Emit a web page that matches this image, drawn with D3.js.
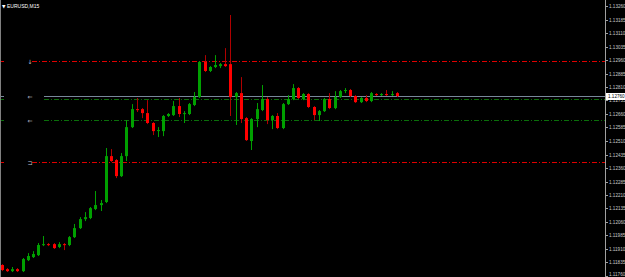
<!DOCTYPE html>
<html>
<head>
<meta charset="utf-8">
<script src="https://cdn.jsdelivr.net/npm/d3@7"></script>
<style>
  html, body { margin: 0; padding: 0; background: #000; overflow: hidden; }
  svg { display: block; }
</style>
</head>
<body>
<div id="chart"></div>
<script>
// EURUSD M15 candles (oldest first)
const opens = [1.11821,1.11798,1.11787,1.11798,1.11787,1.11848,1.11865,1.11876,1.11932,1.11937,
  1.11937,1.11921,1.11937,1.11932,1.11976,1.12026,1.12076,1.12082,1.12132,1.12154,
  1.12171,1.12426,1.12404,1.12315,1.12426,1.12587,1.12687,1.12687,1.12665,1.12610,
  1.12565,1.12565,1.12649,1.12654,1.12704,1.12662,1.12660,1.12710,1.12754,1.12949,
  1.12899,1.12921,1.12926,1.12937,1.12937,1.12754,1.12776,1.12637,1.12510,1.12632,
  1.12682,1.12743,1.12626,1.12649,1.12582,1.12715,1.12743,1.12804,1.12743,1.12771,
  1.12699,1.12654,1.12676,1.12743,1.12693,1.12754,1.12790,1.12793,1.12760,1.12726,
  1.12749,1.12732,1.12771,1.12765,1.12771,1.12765,1.12776];
const highs = [1.11826,1.11804,1.11810,1.11804,1.11860,1.11887,1.11898,1.11943,1.11982,1.11943,
  1.11943,1.11948,1.11943,1.11982,1.12049,1.12087,1.12115,1.12143,1.12232,1.12182,
  1.12471,1.12465,1.12410,1.12443,1.12626,1.12715,1.12749,1.12693,1.12737,1.12615,
  1.12587,1.12654,1.12665,1.12732,1.12749,1.12676,1.12721,1.12782,1.12954,1.12987,
  1.12926,1.12987,1.12943,1.13026,1.13210,1.12782,1.12865,1.12643,1.12637,1.12721,
  1.12821,1.12754,1.12654,1.12665,1.12721,1.12765,1.12826,1.12810,1.12776,1.12776,
  1.12704,1.12682,1.12749,1.12776,1.12787,1.12793,1.12804,1.12799,1.12765,1.12754,
  1.12765,1.12782,1.12776,1.12776,1.12793,1.12787,1.12782];
const lows = [1.11787,1.11782,1.11782,1.11782,1.11782,1.11843,1.11860,1.11871,1.11926,1.11926,
  1.11910,1.11915,1.11904,1.11926,1.11971,1.12021,1.12065,1.12076,1.12126,1.12121,
  1.12165,1.12393,1.12304,1.12310,1.12399,1.12582,1.12671,1.12637,1.12604,1.12543,
  1.12532,1.12537,1.12643,1.12649,1.12643,1.12610,1.12654,1.12704,1.12749,1.12893,
  1.12893,1.12915,1.12915,1.12921,1.12649,1.12599,1.12610,1.12510,1.12460,1.12587,
  1.12676,1.12604,1.12576,1.12576,1.12576,1.12710,1.12737,1.12743,1.12737,1.12693,
  1.12626,1.12621,1.12671,1.12687,1.12687,1.12749,1.12776,1.12754,1.12721,1.12721,
  1.12726,1.12726,1.12760,1.12760,1.12760,1.12760,1.12754];
const closes = [1.11793,1.11787,1.11798,1.11787,1.11854,1.11871,1.11882,1.11932,1.11937,1.11932,
  1.11915,1.11937,1.11932,1.11976,1.12026,1.12076,1.12087,1.12137,1.12154,1.12165,
  1.12426,1.12399,1.12315,1.12426,1.12587,1.12687,1.12682,1.12665,1.12610,1.12565,
  1.12571,1.12649,1.12660,1.12704,1.12660,1.12665,1.12715,1.12754,1.12949,1.12899,
  1.12921,1.12932,1.12937,1.12926,1.12754,1.12776,1.12632,1.12515,1.12632,1.12687,
  1.12743,1.12626,1.12649,1.12582,1.12715,1.12743,1.12804,1.12749,1.12771,1.12699,
  1.12654,1.12676,1.12743,1.12693,1.12754,1.12787,1.12793,1.12760,1.12726,1.12749,
  1.12732,1.12776,1.12765,1.12771,1.12765,1.12771,1.12760];

// price axis labels
const tickLabels = ["1.13260","1.13185","1.13110","1.13035","1.12960","1.12885","1.12810",
  "1.12735","1.12660","1.12585","1.12510","1.12435","1.12360","1.12285","1.12210",
  "1.12135","1.12060","1.11985","1.11910","1.11835","1.11760"];

// horizontal levels drawn on chart
const levels = [
  {price: 1.12954, color: "#e00000", start: 32, mark: "\u2193"},
  {price: 1.12743, color: "#0a6e0a", start: 44, mark: ""},
  {price: 1.12626, color: "#0a6e0a", start: 44, mark: "\u21d0"},
  {price: 1.12393, color: "#e00000", start: 32, mark: "\u2290"}
];
const bidPrice = 1.12760;
const symbolTitle = "EURUSD,M15";

const W = 625, H = 277;
const AXIS_X = 605;

const svg = d3.select('#chart').append('svg')
  .attr('width', W)
  .attr('height', H);

svg.append('rect').attr('width', W).attr('height', H).attr('fill', '#000');

const y = d3.scaleLinear()
  .domain([+tickLabels[tickLabels.length - 1], +tickLabels[0]])
  .range([276, 6]);

const x = d3.scaleLinear()
  .domain([0, opens.length - 1])
  .range([1.7, 396.9]);

const candles = opens.map((o, i) => ({o: o, h: highs[i], l: lows[i], c: closes[i], i: i}));

// clip for plot area
svg.append('clipPath').attr('id', 'plot')
  .append('rect').attr('x', 1).attr('y', 0).attr('width', AXIS_X - 1).attr('height', H);

const plot = svg.append('g').attr('clip-path', 'url(#plot)');

// level lines
levels.forEach(lv => {
  const yy = Math.round(y(lv.price)) + 0.5;
  plot.append('line')
    .attr('x1', 0).attr('x2', 4)
    .attr('y1', yy).attr('y2', yy)
    .attr('stroke', lv.color);
  plot.append('line')
    .attr('x1', lv.start).attr('x2', AXIS_X)
    .attr('y1', yy).attr('y2', yy)
    .attr('stroke', lv.color)
    .attr('stroke-dasharray', '5,2,1,2');
  if (lv.mark) {
    svg.append('text')
      .attr('x', 30).attr('y', yy + 2)
      .attr('text-anchor', 'middle')
      .attr('font-family', 'DejaVu Sans')
      .attr('font-size', 6)
      .attr('fill', '#c0c8d8')
      .text(lv.mark);
  }
});

// bid line
const by = Math.round(y(bidPrice)) + 0.5;
plot.append('line').attr('x1', 0).attr('x2', 4).attr('y1', by).attr('y2', by).attr('stroke', '#778899');
plot.append('line').attr('x1', 44).attr('x2', AXIS_X).attr('y1', by).attr('y2', by).attr('stroke', '#778899');
svg.append('text')
  .attr('x', 30).attr('y', by + 2)
  .attr('text-anchor', 'middle')
  .attr('font-family', 'DejaVu Sans')
  .attr('font-size', 6)
  .attr('fill', '#c0c8d8')
  .text('\u21d0');

// wicks
plot.selectAll('line.wick')
  .data(candles)
  .enter()
  .append('line')
  .attr('class', 'wick')
  .attr('x1', d => Math.round(x(d.i)) + 0.5)
  .attr('x2', d => Math.round(x(d.i)) + 0.5)
  .attr('y1', d => y(d.h))
  .attr('y2', d => y(d.l))
  .attr('stroke', d => d.c >= d.o ? '#00a000' : '#b00000')
  .attr('stroke-width', 1);

// bodies
plot.selectAll('rect.body')
  .data(candles)
  .enter()
  .append('rect')
  .attr('class', 'body')
  .attr('x', d => Math.round(x(d.i)) - 1)
  .attr('width', 3)
  .attr('y', d => y(Math.max(d.o, d.c)))
  .attr('height', d => Math.max(1, Math.abs(y(d.o) - y(d.c))))
  .attr('fill', d => d.c >= d.o ? '#00a000' : '#ff0000');

// left border
svg.append('line').attr('x1', 0.5).attr('x2', 0.5).attr('y1', 0).attr('y2', H)
  .attr('stroke', '#808080');

// right price axis
svg.append('line').attr('x1', AXIS_X + 0.5).attr('x2', AXIS_X + 0.5).attr('y1', 0).attr('y2', H)
  .attr('stroke', '#a0a0a0');

const ax = svg.append('g');
tickLabels.forEach(t => {
  const ty = Math.round(y(+t)) + 0.5;
  ax.append('line').attr('x1', AXIS_X).attr('x2', AXIS_X + 3)
    .attr('y1', ty).attr('y2', ty).attr('stroke', '#a0a0a0');
  ax.append('text')
    .attr('x', 609).attr('y', Math.min(ty + 1.6, H - 0.6))
    .attr('font-family', 'Liberation Sans')
    .attr('font-size', 4.6)
    .attr('fill', '#c8c8c8')
    .text(t);
});

// current price box
svg.append('rect').attr('x', 606).attr('y', by - 3.5).attr('width', 19).attr('height', 7)
  .attr('fill', '#ffffff');
svg.append('text')
  .attr('x', 608).attr('y', by + 1.6)
  .attr('font-family', 'Liberation Sans')
  .attr('font-size', 4.6)
  .attr('fill', '#000')
  .text(bidPrice.toFixed(5));

// title
svg.append('text').attr('x', 2).attr('y', 8)
  .attr('font-family', 'DejaVu Sans')
  .attr('font-size', 4.5)
  .attr('fill', '#ffffff')
  .text('\u25bc');
svg.append('text').attr('x', 7).attr('y', 8)
  .attr('font-family', 'Liberation Sans')
  .attr('font-size', 5)
  .attr('fill', '#ffffff')
  .text(symbolTitle);
</script>
</body>
</html>
